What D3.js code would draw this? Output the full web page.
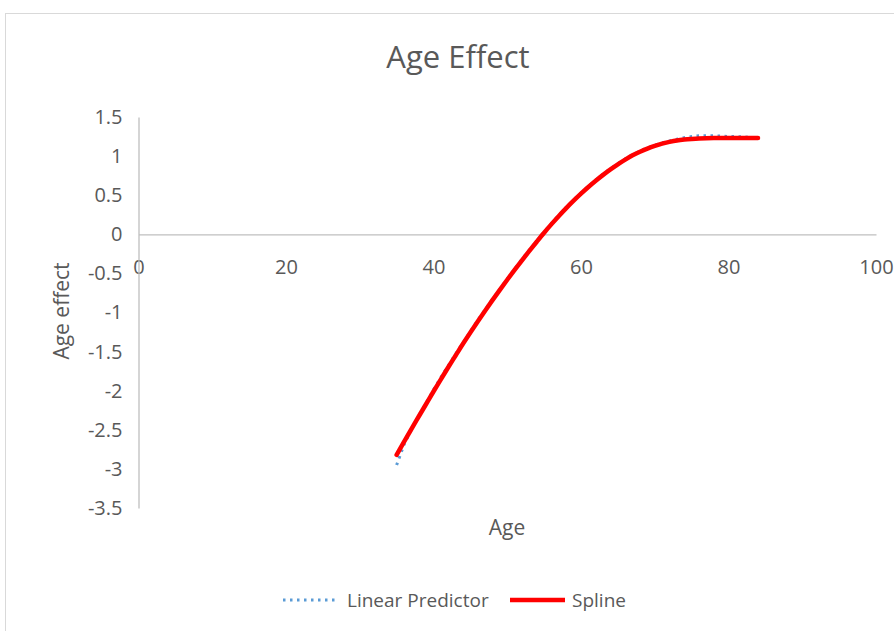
<!DOCTYPE html>
<html lang="en">
<head>
<meta charset="UTF-8">
<title>Age Effect</title>
<style>
  body { margin: 0; background: #fff; }
  svg text { font-family: "Open Sans", sans-serif; fill: #595959; }
</style>
</head>
<body>
<div id="d3-container"></div>
<script src="https://d3js.org/d3.v7.min.js"></script>
<script>
const chartWidth = 894
const chartHeight = 631

// ages 35..84
const ages = d3.range(35, 85)
const splineValues = [
  -2.82, -2.655, -2.49, -2.33, -2.17, -2.01, -1.855, -1.70, -1.55, -1.40,
  -1.256, -1.115, -0.977, -0.842, -0.71, -0.581, -0.455, -0.332, -0.212, -0.095,
  0.02, 0.13, 0.235, 0.335, 0.43, 0.52, 0.605, 0.685, 0.76, 0.83,
  0.895, 0.955, 1.01, 1.055, 1.095, 1.13, 1.16, 1.182, 1.20, 1.212,
  1.22, 1.226, 1.229, 1.23, 1.23, 1.23, 1.23, 1.23, 1.23, 1.23
]
const linearValues = [
  -2.95, -2.69, -2.50, -2.32, -2.16, -1.99, -1.83, -1.68, -1.53, -1.39,
  -1.245, -1.10, -0.965, -0.83, -0.70, -0.57, -0.445, -0.32, -0.20, -0.085,
  0.03, 0.14, 0.245, 0.345, 0.44, 0.53, 0.615, 0.695, 0.77, 0.84,
  0.905, 0.965, 1.02, 1.065, 1.105, 1.14, 1.17, 1.195, 1.215, 1.235,
  1.25, 1.26, 1.26, 1.26, 1.255, 1.25, 1.25, 1.245, 1.24, 1.23
]
const xTicks = [0, 20, 40, 60, 80, 100]
const yTicks = [1.5, 1, 0.5, 0, -0.5, -1, -1.5, -2, -2.5, -3, -3.5]

const svg = d3.select('#d3-container')
  .append('svg')
  .attr('width', chartWidth)
  .attr('height', chartHeight)

// chart area border (cut off on the right and bottom)
svg.append('rect')
  .attr('x', 5.5).attr('y', 13.5)
  .attr('width', 1000).attr('height', 1000)
  .attr('fill', '#fff')
  .attr('stroke', '#d9d9d9')

const xScale = d3.scaleLinear().domain([0, 100]).range([138.5, 876])
const yScale = d3.scaleLinear().domain([-3.5, 1.5]).range([508, 117])

const xAxis = d3.axisBottom(xScale).tickValues(xTicks).tickSize(0).tickPadding(26)
const yAxis = d3.axisLeft(yScale).tickValues(yTicks).tickSize(0).tickPadding(16)

const gx = svg.append('g')
  .attr('transform', `translate(0, ${yScale(0)})`)
  .call(xAxis)
const gy = svg.append('g')
  .attr('transform', `translate(${xScale(0)}, 0)`)
  .call(yAxis)

for (const g of [gx, gy]) {
  g.select('.domain').attr('stroke', '#bfbfbf').attr('stroke-width', 1.3)
  g.selectAll('text')
    .style('font-family', '"Open Sans", sans-serif')
    .style('font-size', '20px')
    .attr('fill', '#595959')
}
gy.selectAll('text').text(d => String(d))

const data = ages.map((a, i) => ({ age: a, spline: splineValues[i], linear: linearValues[i] }))

svg.append('path')
  .datum(data)
  .attr('fill', 'none')
  .attr('stroke', '#5b9bd5')
  .attr('stroke-width', 3)
  .attr('stroke-dasharray', '2.5,4.5')
  .attr('d', d3.line().x(d => xScale(d.age)).y(d => yScale(d.linear)))

svg.append('path')
  .datum(data)
  .attr('fill', 'none')
  .attr('stroke', '#ff0000')
  .attr('stroke-width', 4.5)
  .attr('stroke-linecap', 'round')
  .attr('d', d3.line().curve(d3.curveMonotoneX).x(d => xScale(d.age)).y(d => yScale(d.spline)))

// titles
svg.append('text')
  .attr('x', 458).attr('y', 68)
  .attr('text-anchor', 'middle')
  .style('font-size', '31px')
  .text('Age Effect')

svg.append('text')
  .attr('x', 507).attr('y', 535)
  .attr('text-anchor', 'middle')
  .style('font-size', '21px')
  .text('Age')

svg.append('text')
  .attr('transform', 'translate(69, 311) rotate(-90)')
  .attr('text-anchor', 'middle')
  .style('font-size', '21px')
  .text('Age effect')

// legend
const legend = svg.append('g')
legend.append('line')
  .attr('x1', 283).attr('x2', 336).attr('y1', 600).attr('y2', 600)
  .attr('stroke', '#5b9bd5').attr('stroke-width', 3)
  .attr('stroke-dasharray', '2.5,4.5')
legend.append('text')
  .attr('x', 347).attr('y', 607)
  .style('font-size', '19px')
  .text('Linear Predictor')
legend.append('line')
  .attr('x1', 510).attr('x2', 565).attr('y1', 600).attr('y2', 600)
  .attr('stroke', '#ff0000').attr('stroke-width', 4.5)
legend.append('text')
  .attr('x', 572).attr('y', 607)
  .style('font-size', '19px')
  .text('Spline')
</script>
</body>
</html>
